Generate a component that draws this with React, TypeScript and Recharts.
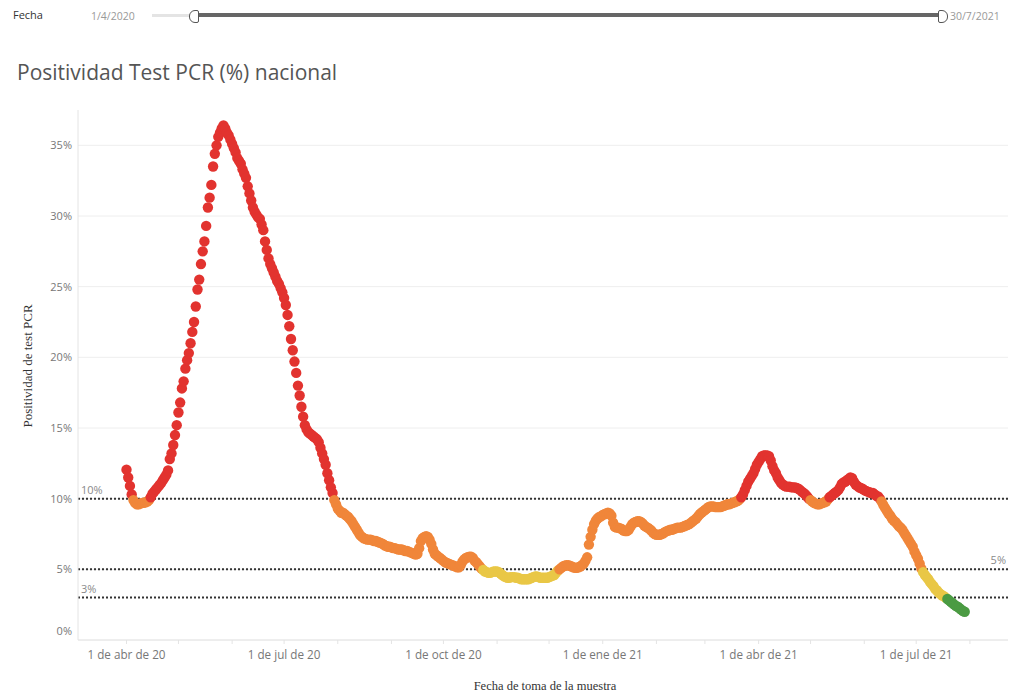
import React from "react";
import {
  ScatterChart,
  Scatter,
  XAxis,
  YAxis,
  CartesianGrid,
  ReferenceLine,
} from "recharts";

// Daily positivity (%) by month, from 1 Apr 2020 to 29 Jul 2021
const abr20 = [12.05, 11.5, 10.9, 10.3, 9.9, 9.7, 9.6, 9.6, 9.65, 9.7, 9.7, 9.75, 9.8, 9.9, 10.1, 10.35, 10.5, 10.65, 10.8, 10.95, 11.1, 11.3, 11.5, 11.7, 12.0, 12.8, 13.2, 13.8, 14.5, 15.2];
const may20 = [16.1, 16.8, 17.8, 18.3, 19.2, 19.8, 20.3, 21.0, 21.8, 22.5, 23.6, 24.8, 25.5, 26.6, 27.5, 28.2, 29.3, 30.6, 31.3, 32.2, 33.5, 34.4, 35.0, 35.6, 35.9, 36.2, 36.4, 36.2, 35.9, 35.7, 35.4];
const jun20 = [35.1, 34.8, 34.5, 34.1, 33.9, 33.7, 33.3, 33.0, 32.7, 32.1, 31.6, 31.1, 30.6, 30.3, 30.1, 29.9, 29.8, 29.4, 29.0, 28.2, 27.6, 27.0, 26.6, 26.3, 26.0, 25.7, 25.4, 25.2, 24.9, 24.6];
const jul20 = [24.2, 23.7, 23.0, 22.2, 21.3, 20.5, 19.7, 18.9, 18.0, 17.3, 16.5, 15.8, 15.2, 14.9, 14.7, 14.6, 14.5, 14.4, 14.3, 14.2, 14.0, 13.6, 13.2, 12.8, 12.4, 11.8, 11.3, 10.8, 10.4, 9.9, 9.6];
const ago20 = [9.3, 9.15, 9.0, 9.0, 8.9, 8.8, 8.7, 8.55, 8.4, 8.2, 8.0, 7.8, 7.6, 7.4, 7.3, 7.2, 7.15, 7.1, 7.1, 7.1, 7.05, 7.0, 7.0, 6.95, 6.9, 6.85, 6.8, 6.7, 6.65, 6.6, 6.6];
const sep20 = [6.55, 6.5, 6.5, 6.45, 6.4, 6.4, 6.4, 6.35, 6.3, 6.3, 6.25, 6.2, 6.15, 6.1, 6.05, 6.1, 6.5, 7.0, 7.2, 7.3, 7.35, 7.3, 7.1, 6.8, 6.4, 6.1, 6.0, 5.9, 5.8, 5.7];
const oct20 = [5.6, 5.5, 5.45, 5.4, 5.35, 5.3, 5.25, 5.2, 5.15, 5.15, 5.3, 5.55, 5.7, 5.8, 5.85, 5.9, 5.9, 5.8, 5.6, 5.5, 5.35, 5.2, 5.05, 4.95, 4.85, 4.8, 4.75, 4.75, 4.8, 4.85, 4.85];
const nov20 = [4.85, 4.8, 4.7, 4.6, 4.5, 4.45, 4.4, 4.4, 4.45, 4.45, 4.45, 4.4, 4.4, 4.35, 4.3, 4.3, 4.3, 4.3, 4.3, 4.35, 4.4, 4.45, 4.5, 4.5, 4.45, 4.4, 4.4, 4.4, 4.4, 4.4];
const dic20 = [4.45, 4.5, 4.55, 4.6, 4.75, 4.9, 5.0, 5.1, 5.2, 5.25, 5.3, 5.3, 5.25, 5.2, 5.15, 5.1, 5.1, 5.15, 5.2, 5.3, 5.4, 5.6, 5.85, 6.75, 7.3, 7.8, 8.2, 8.45, 8.6, 8.7, 8.75];
const ene21 = [8.85, 8.9, 8.95, 9.0, 8.95, 8.8, 8.3, 8.0, 7.95, 7.95, 7.9, 7.85, 7.75, 7.7, 7.7, 7.8, 8.0, 8.2, 8.3, 8.35, 8.4, 8.4, 8.35, 8.25, 8.1, 8.0, 7.95, 7.85, 7.75, 7.6, 7.5];
const feb21 = [7.45, 7.45, 7.45, 7.5, 7.55, 7.65, 7.7, 7.75, 7.8, 7.8, 7.85, 7.9, 7.95, 7.95, 7.95, 8.0, 8.05, 8.1, 8.15, 8.2, 8.3, 8.4, 8.5, 8.6, 8.75, 8.9, 9.0, 9.1];
const mar21 = [9.2, 9.3, 9.4, 9.45, 9.45, 9.45, 9.4, 9.4, 9.4, 9.4, 9.45, 9.5, 9.55, 9.6, 9.6, 9.65, 9.7, 9.75, 9.8, 9.85, 9.95, 10.1, 10.3, 10.6, 10.9, 11.2, 11.4, 11.6, 11.8, 12.1, 12.4];
const abr21 = [12.6, 12.8, 13.0, 13.05, 13.05, 13.05, 13.0, 12.7, 12.3, 12.0, 11.8, 11.5, 11.3, 11.1, 11.0, 10.9, 10.85, 10.85, 10.85, 10.8, 10.8, 10.8, 10.75, 10.7, 10.6, 10.5, 10.4, 10.3, 10.15, 10.0];
const may21 = [9.9, 9.8, 9.7, 9.65, 9.6, 9.6, 9.65, 9.7, 9.75, 9.8, 9.95, 10.1, 10.2, 10.3, 10.4, 10.5, 10.6, 10.8, 11.05, 11.15, 11.2, 11.3, 11.4, 11.5, 11.45, 11.2, 11.0, 10.9, 10.8, 10.75, 10.7];
const jun21 = [10.6, 10.55, 10.5, 10.45, 10.4, 10.4, 10.3, 10.2, 10.15, 10.0, 9.8, 9.55, 9.35, 9.15, 8.95, 8.8, 8.6, 8.45, 8.35, 8.2, 8.05, 7.95, 7.8, 7.6, 7.4, 7.2, 7.0, 6.8, 6.6, 6.25];
const jul21 = [6.0, 5.75, 5.4, 5.05, 4.8, 4.6, 4.45, 4.3, 4.1, 3.95, 3.8, 3.6, 3.5, 3.35, 3.25, 3.15, 3.1, 3.0, 2.9, 2.8, 2.7, 2.6, 2.5, 2.4, 2.35, 2.25, 2.15, 2.05, 2.0];

// X ticks: month starts (days since 1 Apr 2020); labels only on quarters
const monthStartDays = [0, 30, 61, 91, 122, 153, 183, 214, 244, 275, 306, 334, 365, 395, 426, 456, 487];
const xTickDays = [0, 91, 183, 275, 365, 456];
const xTickLabels = ["1 de abr de 20", "1 de jul de 20", "1 de oct de 20", "1 de ene de 21", "1 de abr de 21", "1 de jul de 21"];
const yTicks = [0, 5, 10, 15, 20, 25, 30, 35];
const thresholds = [10, 5, 3];

const allValues = [
  ...abr20, ...may20, ...jun20, ...jul20, ...ago20, ...sep20, ...oct20, ...nov20,
  ...dic20, ...ene21, ...feb21, ...mar21, ...abr21, ...may21, ...jun21, ...jul21,
];
const data = allValues.map((v, i) => ({ d: i, v }));

const RED = "#e2332f";
const ORANGE = "#f0863a";
const YELLOW = "#e9c746";
const GREEN = "#4b9b43";
const colorFor = (v: number) => (v >= 10 ? RED : v >= 5 ? ORANGE : v >= 3 ? YELLOW : GREEN);

const SANS = "'Open Sans', 'Noto Sans', Arial, sans-serif";
const SERIF = "'Liberation Serif', 'DejaVu Serif', serif";

const DotShape = (p: any) => {
  if (p.cx == null || p.cy == null) return null;
  return <circle cx={p.cx} cy={p.cy} r={5.2} fill={colorFor(p.payload.v)} />;
};

const refLabel = (txt: string, side: "left" | "right") => (props: any) => {
  const vb = props.viewBox || {};
  const x = side === "left" ? vb.x + 3 : vb.x + vb.width - 2;
  return (
    <text
      x={x}
      y={vb.y - 5}
      textAnchor={side === "left" ? "start" : "end"}
      fill="#8a8a8a"
      fontSize={11}
      fontFamily={SANS}
    >
      {txt}
    </text>
  );
};

const YTick = (p: any) => {
  const v = p.payload.value;
  const shift = v === 0 ? -9 : 0;
  return (
    <text x={p.x} y={p.y + shift} dy="0.355em" textAnchor="end" fill="#777" fontSize={11} fontFamily={SANS}>
      {`${v}%`}
    </text>
  );
};

const XTick = (p: any) => {
  const idx = xTickDays.indexOf(p.payload.value);
  if (idx < 0) return null;
  return (
    <text x={p.x} y={p.y} dy="0.71em" textAnchor="middle" fill="#777" fontSize={11.7} fontFamily={SANS}>
      {xTickLabels[idx]}
    </text>
  );
};

export default function App() {
  return (
    <div style={{ position: "absolute", left: 0, top: 0, width: 1011, height: 694, background: "#fff", overflow: "hidden" }}>
      {/* Date filter slider */}
      <div style={{ position: "absolute", left: 13, top: 7, fontFamily: SANS, fontSize: 11, color: "#333" }}>Fecha</div>
      <div style={{ position: "absolute", left: 91, top: 9, fontFamily: SANS, fontSize: 10.5, color: "#999" }}>1/4/2020</div>
      <div style={{ position: "absolute", left: 152, top: 14, width: 38, height: 3, background: "#e4e4e4" }} />
      <div style={{ position: "absolute", left: 197, top: 13, width: 744, height: 4, background: "#666" }} />
      <div style={{ position: "absolute", left: 189, top: 10, width: 8, height: 11, background: "#fff", border: "1px solid #555", borderRadius: "6px 2px 2px 6px" }} />
      <div style={{ position: "absolute", left: 938, top: 10, width: 8, height: 11, background: "#fff", border: "1px solid #555", borderRadius: "2px 6px 6px 2px" }} />
      <div style={{ position: "absolute", left: 950, top: 9, fontFamily: SANS, fontSize: 10.5, color: "#999" }}>30/7/2021</div>

      {/* Title */}
      <div style={{ position: "absolute", left: 17, top: 58, fontFamily: SANS, fontSize: 21, color: "#555", whiteSpace: "nowrap" }}>
        Positividad Test PCR (%) nacional
      </div>

      {/* Axis titles */}
      <div
        style={{
          position: "absolute",
          left: 28,
          top: 366,
          transform: "translate(-50%, -50%) rotate(-90deg)",
          fontFamily: SERIF,
          fontSize: 13,
          color: "#333",
          whiteSpace: "nowrap",
        }}
      >
        Positividad de test PCR
      </div>
      <div
        style={{
          position: "absolute",
          left: 545,
          top: 686,
          transform: "translate(-50%, -50%)",
          fontFamily: SERIF,
          fontSize: 12.5,
          color: "#333",
          whiteSpace: "nowrap",
        }}
      >
        Fecha de toma de la muestra
      </div>

      <div style={{ position: "absolute", left: 0, top: 0 }}>
        <ScatterChart width={1011} height={694} margin={{ top: 110, right: 3, bottom: 24, left: 0 }}>
          <CartesianGrid vertical={false} stroke="#eeeeee" horizontalValues={yTicks} />
          <XAxis
            dataKey="d"
            type="number"
            domain={[-28, 509]}
            ticks={monthStartDays}
            interval={0}
            axisLine={{ stroke: "#e4e4e4" }}
            tickLine={{ stroke: "#e4e4e4" }}
            tickSize={4}
            tickMargin={7}
            height={30}
            tick={<XTick />}
            allowDataOverflow
          />
          <YAxis
            dataKey="v"
            type="number"
            domain={[0, 37.5]}
            ticks={yTicks}
            interval={0}
            axisLine={{ stroke: "#e4e4e4" }}
            tickLine={false}
            tickSize={0}
            tickMargin={6}
            width={78}
            tick={<YTick />}
            allowDataOverflow
          />
          <Scatter data={data} shape={DotShape} isAnimationActive={false} />
          <ReferenceLine y={thresholds[0]} stroke="#333" strokeWidth={2} strokeDasharray="2 2" label={refLabel("10%", "left")} />
          <ReferenceLine y={thresholds[1]} stroke="#333" strokeWidth={2} strokeDasharray="2 2" label={refLabel("5%", "right")} />
          <ReferenceLine y={thresholds[2]} stroke="#333" strokeWidth={2} strokeDasharray="2 2" label={refLabel("3%", "left")} />
        </ScatterChart>
      </div>
    </div>
  );
}
